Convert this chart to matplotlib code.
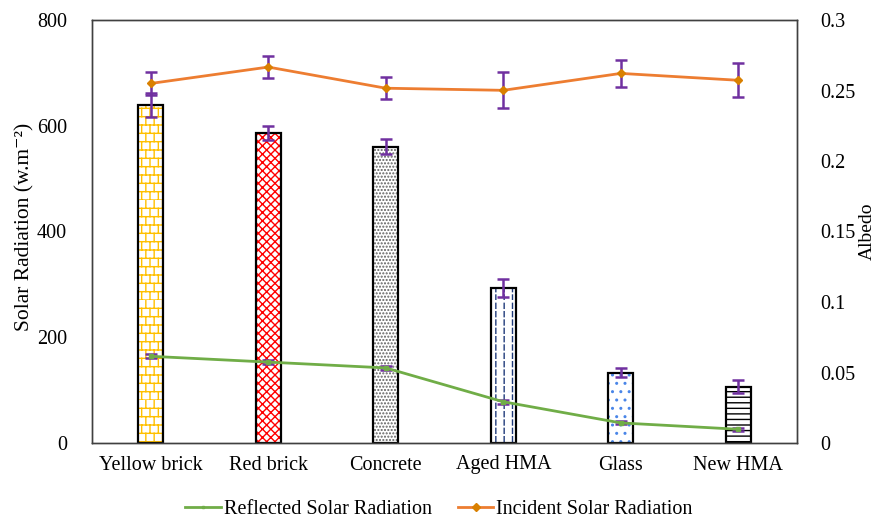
import warnings
import numpy as np
import matplotlib
matplotlib.use('Agg')
import matplotlib.pyplot as plt
from matplotlib import hatch as mhatch
from matplotlib.path import Path
from matplotlib.lines import Line2D

warnings.filterwarnings('ignore')

plt.rcParams['font.family'] = ['Liberation Serif', 'DejaVu Serif']
plt.rcParams['hatch.linewidth'] = 1.0


class BrickHatch(mhatch.HatchPatternBase):
    """'b' -> staggered brick courses"""
    def __init__(self, hatch, density):
        self.num_rows = hatch.count('b') * density
        self.num_vertices = self.num_rows * (2 + 2 * self.num_rows)

    def set_vertices_and_codes(self, vertices, codes):
        n = self.num_rows
        h = 1.0 / n
        k = 0
        for i in range(n):
            y = i * h
            vertices[k] = (0, y)
            vertices[k + 1] = (1, y)
            codes[k], codes[k + 1] = Path.MOVETO, Path.LINETO
            k += 2
            off = 0.5 * h * (i % 2)
            for j in range(n):
                xv = j * h + off
                vertices[k] = (xv, y)
                vertices[k + 1] = (xv, y + h)
                codes[k], codes[k + 1] = Path.MOVETO, Path.LINETO
                k += 2


class DashHatch(mhatch.HatchPatternBase):
    """'d' -> dashed vertical lines"""
    def __init__(self, hatch, density):
        self.num_cols = hatch.count('d') * density
        self.num_vertices = self.num_cols * self.num_cols * 2

    def set_vertices_and_codes(self, vertices, codes):
        n = self.num_cols
        h = 1.0 / n
        k = 0
        for i in range(n):
            xv = (i + 0.5) * h
            for j in range(n):
                vertices[k] = (xv, j * h)
                vertices[k + 1] = (xv, j * h + 0.6 * h)
                codes[k], codes[k + 1] = Path.MOVETO, Path.LINETO
                k += 2


mhatch._hatch_types.append(BrickHatch)
mhatch._hatch_types.append(DashHatch)

surfaces = ['Yellow brick', 'Red brick', 'Concrete', 'Aged HMA', 'Glass', 'New HMA']

# albedo per surface (bars, right axis)
albedo = [0.24, 0.22, 0.21, 0.11, 0.05, 0.04]
albedo_err = [0.0085, 0.005, 0.0053, 0.0064, 0.0035, 0.0046]

# solar radiation, W/m2 (lines, left axis)
incident = [680, 711, 671, 667, 699, 686]
incident_err = [21, 21, 21, 34, 25, 32]
reflected = [164, 153, 142, 78, 38, 26]
reflected_err = [4, 4, 3, 4, 3, 3]

hatches = ['bb', 'xxxx', '.....', 'dd', '..', '---']
hatch_colors = ['#FFC000', '#FF0000', '#606060', '#1F3A7A', '#4A86E8', '#000000']

left_ticks = [0, 200, 400, 600, 800]
right_ticks = [0, 0.05, 0.1, 0.15, 0.2, 0.25, 0.3]
right_labels = ['0', '0.05', '0.1', '0.15', '0.2', '0.25', '0.3']

purple = '#7030A0'
green = '#70AD47'
orange = '#ED7D31'
fs = 14.5

fig = plt.figure(figsize=(8.76, 5.22), dpi=100)
ax = fig.add_axes([92 / 876, 1 - 443 / 522, 705 / 876, 423 / 522])
ax2 = ax.twinx()
ax.set_zorder(ax2.get_zorder() + 1)
ax.patch.set_visible(False)

x = np.arange(len(surfaces))

# bars: hatch layer first, then black outline on top
ax2.bar(x, albedo, width=0.21, color='white', edgecolor=hatch_colors,
        hatch=hatches, linewidth=0)
ax2.bar(x, albedo, width=0.21, color='none', edgecolor='black', linewidth=1.6)
ax2.errorbar(x, albedo, yerr=albedo_err, fmt='none', ecolor=purple,
             elinewidth=1.8, capsize=4, capthick=1.8)

ax.errorbar(x, reflected, yerr=reflected_err, color=green, lw=2,
            marker='s', ms=3, mfc=green, mec=green, ecolor=purple,
            elinewidth=1.8, capsize=4, capthick=1.8)
ax.errorbar(x, incident, yerr=incident_err, color=orange, lw=2,
            marker='D', ms=4, mfc='#D98000', mec='#D98000', ecolor=purple,
            elinewidth=1.8, capsize=4, capthick=1.8)

ax.set_xlim(-0.5, 5.5)
ax.set_ylim(0, 800)
ax2.set_ylim(0, 0.3)

ax.set_xticks(x)
ax.set_xticklabels(surfaces, fontsize=fs)
ax.set_yticks(left_ticks)
ax.set_yticklabels([str(t) for t in left_ticks], fontsize=fs)
ax2.set_yticks(right_ticks)
ax2.set_yticklabels(right_labels, fontsize=fs)
ax.tick_params(axis='both', length=0)
ax.tick_params(axis='y', pad=18)
ax.tick_params(axis='x', pad=9)
ax2.tick_params(axis='y', length=0, pad=17)

for a in (ax, ax2):
    for s in a.spines.values():
        s.set_color('#404040')
        s.set_linewidth(1.0)

ax.set_ylabel('Solar Radiation (w.m⁻²)', fontsize=15.5)
ax.yaxis.set_label_coords(-0.081, 0.51)
ax2.set_ylabel('Albedo', fontsize=14)
ax2.yaxis.set_label_coords(1.087, 0.5)

handles = [
    Line2D([], [], color=green, lw=2, marker='s', ms=2),
    Line2D([], [], color=orange, lw=2, marker='D', ms=4, mfc='#D98000', mec='#D98000'),
]
labels = ['Reflected Solar Radiation', 'Incident Solar Radiation']
fig.legend(handles, labels, loc='center', bbox_to_anchor=(439 / 876, 1 - 509 / 522),
           ncol=2, frameon=False, fontsize=fs, handlelength=1.75,
           columnspacing=1.3, handletextpad=0.15)

fig.savefig('out.png', dpi=100)
